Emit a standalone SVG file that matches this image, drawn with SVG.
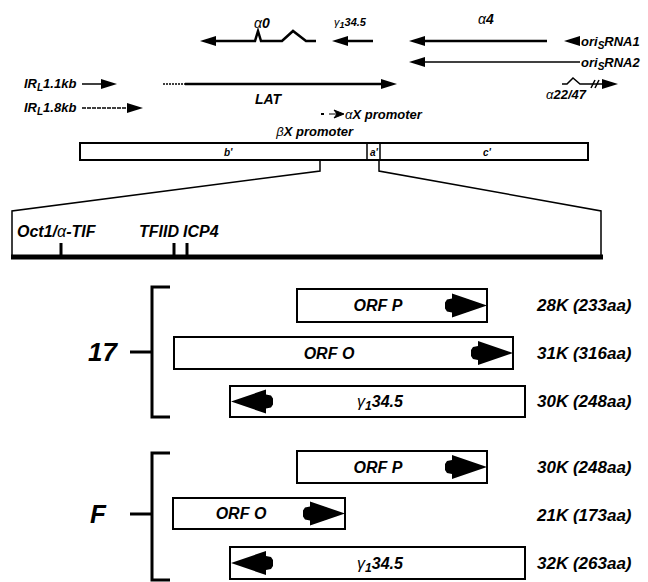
<svg xmlns="http://www.w3.org/2000/svg" xmlns:xlink="http://www.w3.org/1999/xlink" width="648" height="582" viewBox="0 0 648 582">
<style>
text{font-family:"Liberation Sans",Arial,sans-serif;font-weight:bold;font-style:italic;fill:#000}
.g{font-weight:normal}
.ln{stroke:#000;stroke-width:2.5;fill:none}
.thin{stroke:#000;stroke-width:1.5;fill:none}
.box{fill:#fff;stroke:#000;stroke-width:2}
.br{stroke:#000;stroke-width:3;fill:none}
.lab{font-size:17px}
.sz{font-size:16px}
.top{font-size:13px}
</style>
<defs>
<path id="fat" d="M0,0 L-35,-12 L-35,-7 L-40,-6 L-42,-3 L-42,3 L-40,6 L-35,7 L-35,12 Z" fill="#000"/>
<path id="ah" d="M0,0 L-16,-5 L-16,5 Z" fill="#000"/>
</defs>

<g id="transcripts">
  <g id="alpha0">
    <polyline class="ln" points="214,41 255,41 258,31 261,41 282,41 293,31 306,41 316,41"/>
    <use xlink:href="#ah" transform="translate(200,41) scale(-1,1)"/>
    <text x="254" y="28" font-size="14"><tspan class="g">α</tspan>0</text>
  </g>
  <g id="gamma34">
    <line class="ln" x1="346" y1="41" x2="373" y2="41"/>
    <use xlink:href="#ah" transform="translate(332,41) scale(-1,1)"/>
    <text x="334" y="26" font-size="11"><tspan class="g">γ</tspan><tspan dy="2" font-size="9">1</tspan><tspan dy="-2">34.5</tspan></text>
  </g>
  <g id="alpha4">
    <line class="ln" x1="424" y1="41" x2="547" y2="41"/>
    <use xlink:href="#ah" transform="translate(409,41) scale(-1,1)"/>
    <text x="478" y="24" font-size="14"><tspan class="g">α</tspan>4</text>
  </g>
  <g id="oriRNA1">
    <use xlink:href="#ah" transform="translate(564,41) scale(-1,1)"/>
    <text x="581" y="46" class="top">ori<tspan dy="3" font-size="10">S</tspan><tspan dy="-3">RNA1</tspan></text>
  </g>
  <g id="oriRNA2">
    <line class="thin" x1="422" y1="62" x2="580" y2="62"/>
    <use xlink:href="#ah" transform="translate(409,62) scale(-1,1)"/>
    <text x="581" y="67" class="top">ori<tspan dy="3" font-size="10">S</tspan><tspan dy="-3">RNA2</tspan></text>
  </g>
  <g id="alpha2247">
    <polyline class="thin" points="562,84 567,84 573,78 580,84 604,84"/>
    <line class="thin" x1="591" y1="88" x2="595" y2="80"/>
    <line class="thin" x1="595" y1="88" x2="599" y2="80"/>
    <use xlink:href="#ah" transform="translate(618,84)"/>
    <text x="546" y="99" class="top"><tspan class="g">α</tspan>22/47</text>
  </g>
  <g id="IRL11">
    <text x="24" y="88" class="top">IR<tspan dy="3" font-size="10">L</tspan><tspan dy="-3">1.1kb</tspan></text>
    <line class="thin" x1="82" y1="84" x2="104" y2="84"/>
    <use xlink:href="#ah" transform="translate(117,84)"/>
  </g>
  <g id="IRL18">
    <text x="24" y="112" class="top">IR<tspan dy="3" font-size="10">L</tspan><tspan dy="-3">1.8kb</tspan></text>
    <line class="thin" x1="82" y1="108" x2="130" y2="108" stroke-dasharray="4,1"/>
    <use xlink:href="#ah" transform="translate(143,108)"/>
  </g>
  <g id="LAT">
    <line class="thin" x1="163" y1="84" x2="185" y2="84" stroke-dasharray="2,1"/>
    <line class="ln" x1="185" y1="84" x2="384" y2="84"/>
    <use xlink:href="#ah" transform="translate(397,84)"/>
    <text x="255" y="104" font-size="14">LAT</text>
  </g>
  <g id="alphaX">
    <rect x="321" y="113" width="3" height="2" fill="#000"/>
    <path d="M329,114 L343,114 M334,110 L344,114 L334,118 L337,114 Z" stroke="#000" stroke-width="1" fill="#000"/>
    <text x="345" y="119" class="top"><tspan class="g">α</tspan>X promoter</text>
  </g>
  <g id="betaX">
    <text x="353" y="136" class="top" text-anchor="end"><tspan class="g">β</tspan>X promoter</text>
  </g>
</g>

<g id="genome">
  <rect class="box" x="80" y="143" width="508" height="17"/>
  <line class="thin" x1="367" y1="143" x2="367" y2="160" stroke-width="2"/>
  <line class="thin" x1="380" y1="143" x2="380" y2="160" stroke-width="2"/>
  <text x="224" y="156" font-size="10">b'</text>
  <text x="370" y="156" font-size="10">a'</text>
  <text x="483" y="156" font-size="10">c'</text>
</g>

<g id="connectors">
  <polyline class="thin" stroke-width="2" points="320,160 320,171 12,211 12,257"/>
  <polyline class="thin" stroke-width="2" points="379,160 379,171 601,211 601,257"/>
</g>

<g id="promoter">
  <line x1="11" y1="257" x2="603" y2="257" stroke="#000" stroke-width="5"/>
  <line x1="61" y1="243" x2="61" y2="257" stroke="#000" stroke-width="3"/>
  <line x1="174" y1="243" x2="174" y2="257" stroke="#000" stroke-width="3"/>
  <line x1="187" y1="243" x2="187" y2="257" stroke="#000" stroke-width="3"/>
  <text x="17" y="237" font-size="16">Oct1/<tspan class="g">α</tspan>-TIF</text>
  <text x="139" y="237" font-size="16">TFIID</text>
  <text x="183" y="237" font-size="16">ICP4</text>
</g>

<g id="strain17">
  <polyline class="br" points="170,287 152,287 152,417 170,417"/>
  <line class="br" x1="130" y1="352" x2="152" y2="352"/>
  <text x="88" y="361" font-size="26">17</text>
  <g id="s17-orfP">
    <rect class="box" x="297" y="289" width="190" height="33"/>
    <use xlink:href="#fat" transform="translate(487,305.5)"/>
    <text x="378" y="311" class="sz" text-anchor="middle">ORF P</text>
  </g>
  <g id="s17-orfO">
    <rect class="box" x="174" y="337" width="339" height="32"/>
    <use xlink:href="#fat" transform="translate(513,353)"/>
    <text x="329" y="359" class="sz" text-anchor="middle">ORF O</text>
  </g>
  <g id="s17-g345">
    <rect class="box" x="230" y="386" width="295" height="31"/>
    <use xlink:href="#fat" transform="translate(231,401.5) scale(-1,1)"/>
    <text x="380" y="407" class="sz" text-anchor="middle"><tspan class="g">γ</tspan><tspan dy="3" font-size="12">1</tspan><tspan dy="-3">34.5</tspan></text>
  </g>
  <text x="537" y="311" class="lab">28K (233aa)</text>
  <text x="537" y="359" class="lab">31K (316aa)</text>
  <text x="537" y="407" class="lab">30K (248aa)</text>
</g>

<g id="strainF">
  <polyline class="br" points="170,453 152,453 152,580 170,580"/>
  <line class="br" x1="130" y1="514" x2="152" y2="514"/>
  <text x="90" y="523" font-size="26">F</text>
  <g id="sF-orfP">
    <rect class="box" x="297" y="451" width="190" height="32"/>
    <use xlink:href="#fat" transform="translate(487,467)"/>
    <text x="378" y="473" class="sz" text-anchor="middle">ORF P</text>
  </g>
  <g id="sF-orfO">
    <rect class="box" x="173" y="498" width="172" height="31"/>
    <use xlink:href="#fat" transform="translate(345,513.5)"/>
    <text x="241" y="519" class="sz" text-anchor="middle">ORF O</text>
  </g>
  <g id="sF-g345">
    <rect class="box" x="230" y="547" width="295" height="32"/>
    <use xlink:href="#fat" transform="translate(231,563) scale(-1,1)"/>
    <text x="380" y="569" class="sz" text-anchor="middle"><tspan class="g">γ</tspan><tspan dy="3" font-size="12">1</tspan><tspan dy="-3">34.5</tspan></text>
  </g>
  <text x="537" y="473" class="lab">30K (248aa)</text>
  <text x="537" y="521" class="lab">21K (173aa)</text>
  <text x="537" y="569" class="lab">32K (263aa)</text>
</g>
</svg>
